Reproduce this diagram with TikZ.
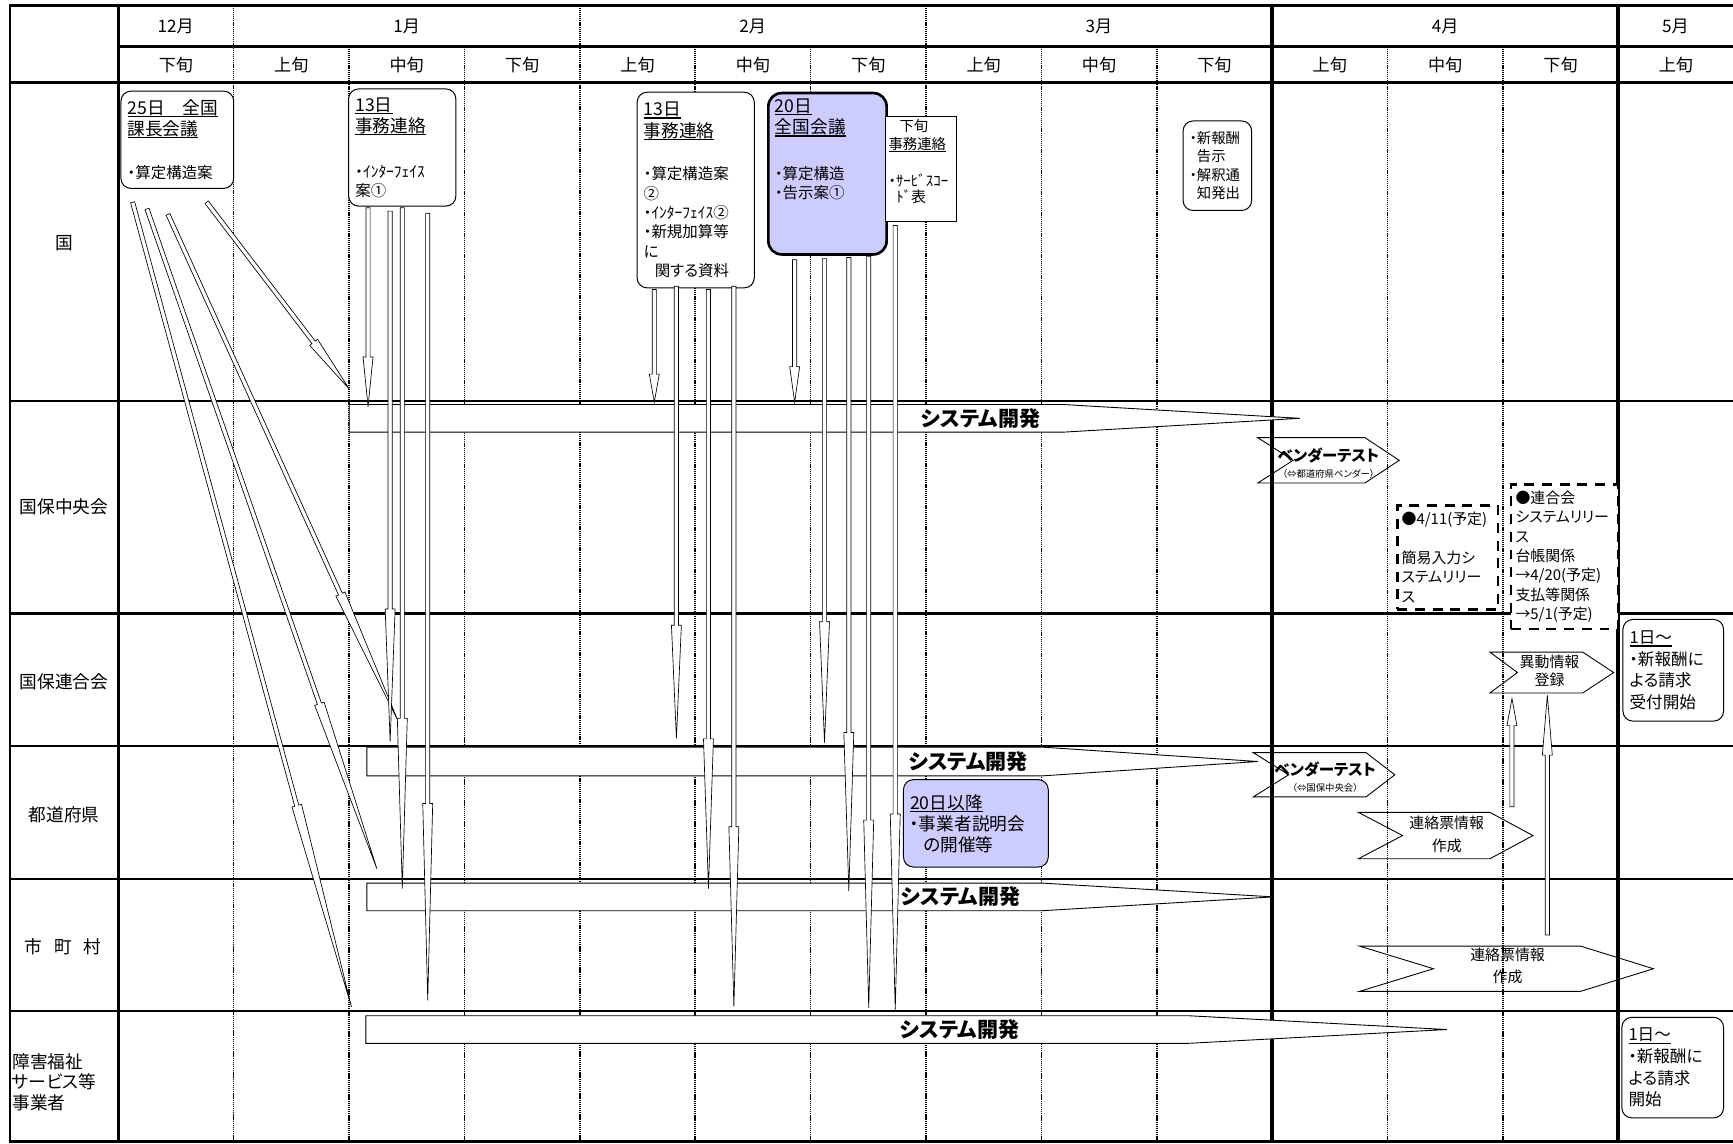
\documentclass[tikz,border=0pt]{standalone}
\usepackage{fontspec}
\setmainfont{Noto Sans CJK JP}[RawFeature=+palt]
\usetikzlibrary{calc}

\definecolor{lav}{HTML}{CCCCFF}
\newcommand{\fsz}[2]{\fontsize{#1}{#2}\selectfont}
\newcommand{\kasen}[1]{\leavevmode\setbox0\hbox{#1}\rlap{\rule[-2.6pt]{\wd0}{1.1pt}}\box0}
\newcommand{\tbox}[4][c]{\parbox[c][#3pt][#1]{#2pt}{\raggedright #4}}
% block arrow: thin outlined shaft, long narrow head
\newcommand{\blkarrow}[2]{%
  \coordinate (ba-h) at ($(#2)!0.25!(#1)$);
  \draw[flow] ($(#1)!1.9pt!90:(#2)$) -- ($(ba-h)!1.9pt!90:(#2)$) -- ($(ba-h)!4.5pt!90:(#2)$) -- (#2)
    -- ($(ba-h)!4.5pt!-90:(#2)$) -- ($(ba-h)!1.9pt!-90:(#2)$) -- ($(#1)!1.9pt!-90:(#2)$) -- cycle;
}

\begin{document}
\begin{tikzpicture}[x=1pt, y=-1pt,
  tblframe/.style={line width=2.6pt},
  rowline/.style={line width=2pt},
  dotline/.style={line width=1.4pt, dash pattern=on 1.1pt off 0.8pt},
  sepline/.style={line width=3.3pt},
  hdr/.style={font=\fsz{15.5}{18}},
  lbl/.style={font=\fsz{16}{18.5}},
  rbox/.style={draw, fill=white, rounded corners=9pt, line width=0.9pt, inner xsep=6pt, inner ysep=5pt, anchor=north west},
  dashbox/.style={draw, fill=white, line width=2.4pt, dash pattern=on 9pt off 7pt, inner xsep=4pt, inner ysep=4pt, anchor=north west},
  devbar/.style={draw, fill=white, line width=0.8pt},
  barlbl/.style={font=\fsz{19}{21}\bfseries, inner sep=0pt},
  chev/.style={draw, line width=0.8pt},
  chevlbl/.style={align=center, inner sep=0pt, font=\fsz{13.5}{17}},
  flow/.style={draw, fill=white, line width=0.6pt}
]
\useasboundingbox (0,0) rectangle (1568,1035);

% Grid
\foreach \i in {2,3,5,6,8,9,11,12}
  \draw[dotline] ({107+104.4*\i},42) -- ({107+104.4*\i},1033);
\foreach \i in {1,4,7}
  \draw[dotline] ({107+104.4*\i},5) -- ({107+104.4*\i},1033);
\foreach \i in {10,13}
  \draw[sepline] ({107+104.4*\i},5) -- ({107+104.4*\i},1033);
\draw[rowline] (107,42) -- (1568,42);
\foreach \y in {363,555,675,795,915}
  \draw[rowline] (9,\y) -- (1568,\y);
\draw[tblframe] (9,75) -- (1568,75);
\draw[tblframe] (107,5) -- (107,1033);
\draw[tblframe] (1568,5) -- (9,5) -- (9,1033) -- (1568,1033);

% Headers
\foreach \m/\x [count=\k] in {12月/159,1月/368,2月/681,3月/994.4,4月/1307.6,5月/1516}
  \node[hdr] (mon\k) at (\x,24) {\m};
\foreach \j [count=\k from 0] in {下旬,上旬,中旬,下旬,上旬,中旬,下旬,上旬,中旬,下旬,上旬,中旬,下旬,上旬}
  \node[hdr] (jun\k) at ({159.2+104.4*\k},59) {\j};

% Row labels
\node[lbl] (r-kuni) at (58,220) {国};
\node[lbl] (r-chuo) at (58,459) {国保中央会};
\node[lbl] (r-rengo) at (58,617) {国保連合会};
\node[lbl] (r-ken) at (58,737) {都道府県};
\node[lbl] (r-shi) at (57,857) {市\hspace{11pt}町\hspace{11pt}村};
\node[lbl, align=left, anchor=west, inner sep=0pt] (r-jigyo) at (11,979) {障害福祉\\サービス等\\事業者};

% System development bars
\draw[devbar] (316,366) -- (962,366) -- (1176,378.5) -- (962,391) -- (316,391) -- cycle;
\draw[devbar] (332,676) -- (943,676) -- (1138,689) -- (943,702) -- (332,702) -- cycle;
\draw[devbar] (332,799) -- (943,799) -- (1152,811.5) -- (943,824) -- (332,824) -- cycle;
\draw[devbar] (331,919) -- (1075,919) -- (1309,931.5) -- (1075,944) -- (331,944) -- cycle;

% Notices from the ministry
\node[rbox] (kacho) at (109,82) {\tbox{90}{78}{\fsz{16}{19}\kasen{25日　全国}\\\kasen{課長会議}\par\vspace{22pt}\fsz{14}{17.5}・算定構造案\par}};
\node[rbox] (jimu1) at (315,80) {\tbox{85}{96}{\fsz{16}{19}\kasen{13日}\\\kasen{事務連絡}\par\vspace{24pt}\fsz{14}{17}・ｲﾝﾀｰﾌｪｲｽ\\案①\par}};
\node[rbox] (jimu2) at (576,83) {\tbox{94}{167}{\fsz{16}{19.5}\kasen{13日}\\\kasen{事務連絡}\par\vspace{21pt}\fsz{14}{17.5}・算定構造案\\②\\・ｲﾝﾀｰﾌｪｲｽ②\\・新規加算等\\に\\\hspace*{10pt}関する資料\par}};
\node[rbox, fill=lav, line width=2.4pt, rounded corners=12pt] (zenkoku) at (694,83) {\tbox[t]{95}{136}{\fsz{16}{19.5}\kasen{20日}\\\kasen{全国会議}\par\vspace{23pt}\fsz{14}{18}・算定構造\\・告示案①\par}};
\node[draw, fill=white, line width=0.9pt, inner xsep=2.5pt, inner ysep=3pt, anchor=north west] (gejun) at (801,105) {\tbox[t]{59}{89}{\fsz{13}{16}\hspace*{10pt}下旬\\\kasen{事務連絡}\par\vspace{19pt}\fsz{13.5}{14.5}・ｻｰﾋﾞｽｺｰ\\\hspace*{7pt}ﾄﾞ表\par}};
\node[rbox, inner ysep=4pt] (kokuji) at (1070,109) {\tbox{50}{73}{\fsz{13}{16.6}・新報酬\\\phantom{・}告示\\・解釈通\\\phantom{・}知発出\par}};

% Other boxes
\node[rbox, fill=lav] (setsumei) at (817,705) {\tbox{119}{69}{\fsz{16}{19}\kasen{20日以降}\\・事業者説明会\\\hspace*{12pt}の開催等\par}};
\node[dashbox] (kan-i) at (1263,456) {\tbox{83}{86}{\fsz{13.5}{17.5}●4/11(予定)\\[17.5pt]簡易入力シ\\ステムリリー\\ス\par}};
\node[dashbox] (rengo-rel) at (1366,437) {\tbox{89}{123}{\fsz{13.5}{17.6}●連合会\\システムリリー\\ス\\台帳関係\\→4/20(予定)\\支払等関係\\→5/1(予定)\par}};
\node[rbox] (uketsuke) at (1468,560) {\tbox{79}{82}{\fsz{15}{19.5}\kasen{1日～}\\・新報酬に\\よる請求\\受付開始\par}};
\node[rbox] (seikyu) at (1467,920) {\tbox{80}{81}{\fsz{15}{19.5}\kasen{1日～}\\・新報酬に\\よる請求\\開始\par}};

% Chevrons
\draw[chev] (1138,396) -- (1235,396) -- (1266,416.5) -- (1235,437) -- (1138,437) -- (1170,416.5) -- cycle;
\node[align=center, inner sep=0pt] (vt-chuo) at (1202,419) {{\fsz{14}{15}\bfseries ベンダーテスト}\\[2pt]{\fsz{8.5}{10}（⇔都道府県ベンダー）}};
\draw[chev] (1134,681) -- (1236,681) -- (1262,701) -- (1236,721) -- (1134,721) -- (1166,701) -- cycle;
\node[align=center, inner sep=0pt] (vt-ken) at (1199,703) {{\fsz{14}{15}\bfseries ベンダーテスト}\\[2pt]{\fsz{8.5}{10}（⇔国保中央会）}};
\draw[chev] (1348,590) -- (1432,590) -- (1460,608.5) -- (1432,627) -- (1348,627) -- (1373,608.5) -- cycle;
\node[chevlbl] (ido) at (1402,607) {異動情報\\登録};
\draw[chev] (1229,735) -- (1348,735) -- (1387,756) -- (1348,777) -- (1229,777) -- (1269,756) -- cycle;
\node[chevlbl, font=\fsz{13.5}{20.5}] (renraku-ken) at (1309,755) {連絡票情報\\作成};
\draw[chev] (1230,856) -- (1430,856) -- (1496,876.5) -- (1430,897) -- (1230,897) -- (1297,876.5) -- cycle;
\node[chevlbl, font=\fsz{13.5}{19.6}] (renraku-shi) at (1364,874) {連絡票情報\\作成};

% Arrows
\foreach \n/\sx/\sy/\ex/\ey in {
    ka1/120/183/318/911, ka2/133/189/341/786, ka3/152/194/360/652, ka4/187/183/316/352,
    jm1/333/188/333/368, jm2/353/191/353/671, jm3/364/188/364/804, jm4/387/193/387/905,
    jn1/592/262/592/364, jn2/612/259/612/668, jn3/641/262/641/804, jn4/664/259/664/911,
    zk1/719/235/719/364, zk2/746/234/746/672, zk3/768/233/768/806, zk4/786/232/786/912,
    gj1/810/204/810/914, up1/1400/846/1400/629, up2/1368/730/1368/632} {
  \coordinate (\n-s) at (\sx,\sy);
  \coordinate (\n-e) at (\ex,\ey);
  \blkarrow{\n-s}{\n-e}
}

% Bar labels
\node[barlbl] (dev-chuo) at (887,378.5) {システム開発};
\node[barlbl] (dev-ken) at (876,689) {システム開発};
\node[barlbl] (dev-shi) at (869,811.5) {システム開発};
\node[barlbl] (dev-jigyo) at (868,931.5) {システム開発};

\end{tikzpicture}
\end{document}
